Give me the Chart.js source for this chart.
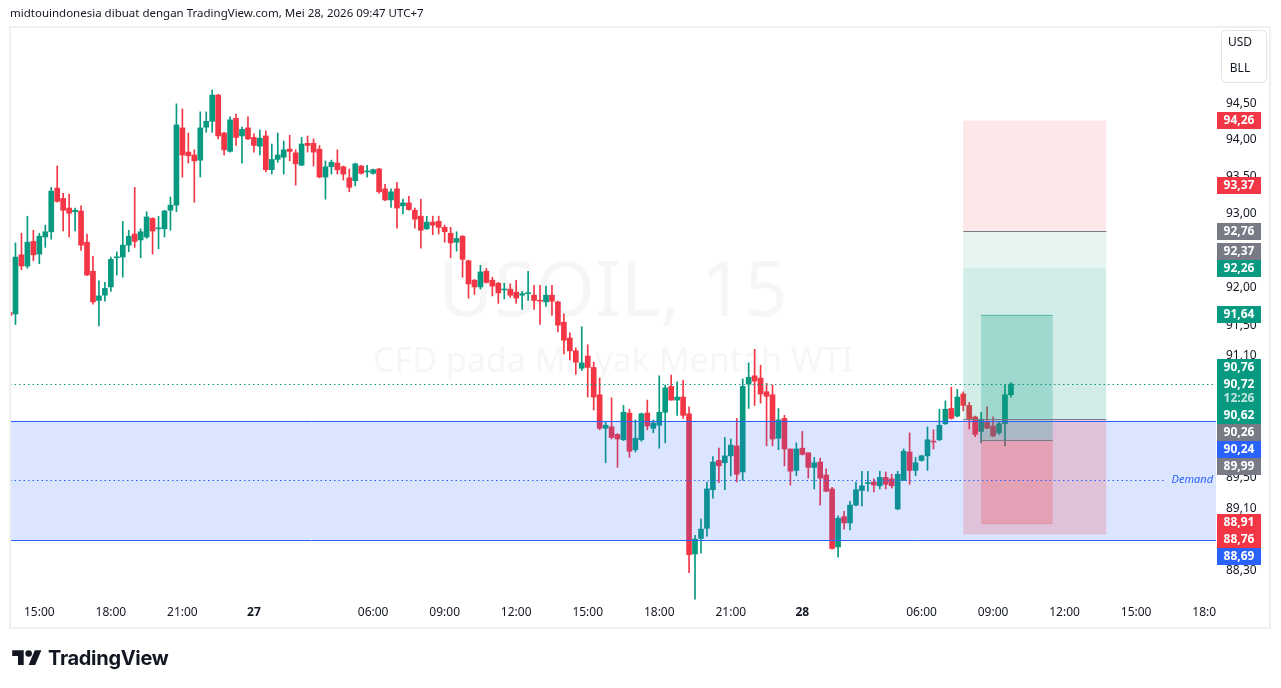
<!DOCTYPE html>
<html>
<head>
<meta charset="utf-8">
<title>USOIL, 15</title>
<script src="https://cdn.jsdelivr.net/npm/chart.js"></script>
<style>
  html, body { margin: 0; padding: 0; background: #fff; }
  #wrap { position: relative; width: 1281px; height: 688px; overflow: hidden; }
  #chart { position: absolute; left: 0; top: 0; }
  #header { position: absolute; left: 10px; top: 5px; font: 11.5px 'Noto Sans', sans-serif; color: #131722; white-space: nowrap; }
  #logo { position: absolute; left: 12px; top: 646px; display: flex; align-items: center; gap: 6px; font: 700 20px Inter, sans-serif; color: #131722; letter-spacing: -0.3px; }
</style>
</head>
<body>
<div id="wrap">
  <canvas id="chart" width="1281" height="688"></canvas>
  <div id="header">midtouindonesia dibuat dengan TradingView.com, Mei 28, 2026 09:47 UTC+7</div>
  <div id="logo">
    <svg width="30" height="23" viewBox="0 0 36 28"><path d="M14 22H7V11H0V4h14v18zM28 22h-8l7.5-18h8L28 22z" fill="#131722"/><circle cx="20" cy="8" r="4" fill="#131722"/></svg>
    <span>TradingView</span>
  </div>
</div>
<script>
// sesi perdagangan 15 menit (UTC+7), jeda 04:00-05:00
const sessions = [
  ['26', '13:45', '23:45'],
  ['27', '00:00', '03:45'],
  ['27', '05:00', '23:45'],
  ['28', '00:00', '03:45'],
  ['28', '05:00', '18:30'],
];

const opens = [91.67,91.65,92.44,92.29,92.62,92.45,92.68,92.75,93.34,93.20,93.07,93.02,93.03,92.61,92.22,91.83,91.90,92.01,92.40,92.41,
  92.57,92.72,92.64,92.68,92.93,92.79,92.79,93.04,93.11,94.16,93.83,93.79,93.72,94.17,94.25,94.61,94.09,93.84,94.29,94.05,
  94.16,94.03,93.91,94.05,93.59,93.73,93.76,93.87,93.82,93.65,93.95,93.95,93.87,93.49,93.63,93.68,93.63,93.48,93.44,93.64,
  93.56,93.54,93.60,93.33,93.18,93.33,93.10,93.14,93.04,92.96,92.79,92.88,92.89,92.81,92.73,92.61,92.69,92.36,92.10,92.01,
  92.22,92.10,92.06,91.97,91.98,91.94,91.90,91.92,91.90,91.83,91.81,91.90,91.81,91.54,91.33,91.16,90.93,91.09,90.94,90.58,
  90.14,90.16,90.06,89.99,90.34,89.86,89.99,90.34,90.14,90.18,90.35,90.69,90.51,90.55,90.33,88.51,88.71,88.84,89.34,89.72,
  89.69,89.78,89.91,89.57,90.72,90.83,90.80,90.62,90.58,90.01,90.27,89.87,89.59,89.88,89.82,89.63,89.70,89.53,89.35,88.60,
  88.99,88.91,89.14,89.33,89.42,89.44,89.39,89.50,89.48,89.09,89.46,89.83,89.59,89.72,89.78,89.97,89.99,90.20,90.40,90.30,
  90.59,90.44,90.29,90.10,90.23,90.17,90.08,90.20,90.58];
const highs = [91.69,92.60,92.73,92.96,92.77,92.73,92.84,93.35,93.64,93.27,93.26,93.07,93.10,92.72,92.42,92.09,92.07,92.41,92.48,92.89,
  92.77,93.35,92.79,93.02,92.94,92.96,93.04,93.22,94.49,94.42,94.09,93.86,94.38,94.38,94.68,94.62,94.10,94.31,94.35,94.17,
  94.31,94.08,94.13,94.12,93.94,94.09,93.98,94.06,93.86,94.03,94.05,94.01,93.92,93.71,93.72,93.86,93.64,93.60,93.68,93.65,
  93.65,93.60,93.61,93.39,93.33,93.42,93.19,93.23,93.07,93.19,92.96,92.96,92.96,92.84,92.81,92.75,92.70,92.37,92.11,92.30,
  92.26,92.14,92.07,92.06,92.05,92.10,91.95,92.22,92.03,92.03,92.02,92.03,91.82,91.65,91.40,91.20,91.48,91.24,91.01,90.80,
  90.22,90.54,90.07,90.44,90.39,90.25,90.34,90.51,90.25,90.83,90.71,90.84,90.75,90.77,90.42,88.75,88.96,89.44,89.77,89.88,
  90.02,90.00,90.27,90.79,91.00,91.18,90.97,90.73,90.71,90.40,90.31,89.87,89.95,90.10,89.82,89.76,89.75,89.61,89.37,89.00,
  89.06,89.19,89.44,89.58,89.58,89.48,89.58,89.57,89.54,89.58,89.87,90.08,89.76,89.79,90.16,90.12,90.39,90.50,90.68,90.65,
  90.62,90.48,90.30,90.35,90.42,90.29,90.22,90.71,90.74];
const lows = [91.62,91.51,92.24,92.26,92.36,92.32,92.54,92.65,93.15,92.76,92.68,92.76,92.50,92.16,91.78,91.49,91.82,91.95,92.17,92.14,
  92.48,92.54,92.40,92.66,92.45,92.52,92.68,92.77,93.02,93.49,93.68,93.15,93.49,94.10,94.10,94.01,93.79,93.83,93.92,93.68,
  94.00,93.83,93.79,93.56,93.53,93.69,93.53,93.71,93.38,93.65,93.83,93.64,93.48,93.19,93.53,93.53,93.45,93.29,93.37,93.53,
  93.49,93.53,93.27,93.17,93.08,92.80,92.99,93.04,92.80,92.53,92.78,92.71,92.72,92.61,92.40,92.49,92.14,91.86,91.91,91.98,
  92.06,91.89,91.79,91.85,91.87,91.79,91.71,91.83,91.71,91.51,91.75,91.63,91.41,91.12,91.04,90.85,90.90,90.55,90.38,90.12,
  89.69,90.00,89.63,89.98,89.76,89.83,89.97,90.12,90.08,89.88,89.95,90.51,90.31,90.27,88.27,87.93,88.52,88.74,89.23,89.43,
  89.34,89.52,89.44,89.46,90.40,90.44,90.47,89.91,89.91,89.86,89.65,89.40,89.52,89.79,89.49,89.35,89.14,89.31,88.57,88.47,
  88.83,88.82,89.13,89.13,89.32,89.31,89.35,89.35,89.36,89.08,89.46,89.41,89.52,89.71,89.59,89.87,89.98,90.19,90.26,90.29,
  90.37,90.13,90.03,89.95,90.14,90.03,90.06,89.91,90.55];
const closes = [91.63,92.41,92.29,92.61,92.44,92.69,92.75,93.30,93.16,93.04,93.00,93.04,92.57,92.17,91.81,91.89,91.99,92.38,92.41,92.57,
  92.69,92.62,92.75,92.95,92.76,92.80,93.03,93.11,94.20,93.79,93.78,93.71,94.16,94.25,94.61,94.05,93.86,94.27,94.03,94.14,
  94.01,93.92,94.02,93.59,93.73,93.79,93.86,93.84,93.67,93.94,93.92,93.83,93.49,93.63,93.69,93.59,93.53,93.35,93.67,93.54,
  93.57,93.59,93.29,93.18,93.29,93.07,93.14,93.05,92.92,92.77,92.88,92.84,92.81,92.75,92.60,92.66,92.38,92.05,92.01,92.21,
  92.07,92.02,91.93,91.98,91.90,91.86,91.92,91.93,91.83,91.82,91.90,91.82,91.50,91.30,91.16,91.01,91.00,90.94,90.55,90.14,
  90.18,90.02,90.00,90.35,89.84,90.01,90.33,90.17,90.21,90.35,90.67,90.51,90.55,90.31,88.50,88.70,88.83,89.35,89.70,89.65,
  89.78,89.92,89.54,90.69,90.81,90.76,90.59,90.56,90.00,90.25,89.87,89.58,89.87,89.80,89.63,89.69,89.49,89.32,88.58,88.97,
  88.91,89.14,89.34,89.39,89.43,89.40,89.50,89.41,89.39,89.54,89.84,89.59,89.69,89.78,89.99,89.96,90.18,90.39,90.27,90.55,
  90.44,90.26,90.06,90.26,90.14,90.04,90.20,90.58,90.72];

const yTicks = [94.5, 94, 93.5, 93, 92.5, 92, 91.5, 91.1, 90.7, 90.3, 89.9, 89.5, 89.1, 88.7, 88.3];
const timeTickKeys = ['26 15:00','26 18:00','26 21:00','27 00:00','27 06:00','27 09:00','27 12:00','27 15:00',
  '27 18:00','27 21:00','28 00:00','28 06:00','28 09:00','28 12:00','28 15:00','28 18:00'];
const timeTickTexts = ['15:00','18:00','21:00','27','06:00','09:00','12:00','15:00',
  '18:00','21:00','28','06:00','09:00','12:00','15:00','18:00'];

const lastPrice = 90.72;
const countdown = '12:26';
const demandLevels = [90.24, 88.69];
const outerTimes = ['28 07:45', '28 13:45'];
const outerLevels = [94.26, 92.76, 92.26, 90.26, 88.76];
const innerTimes = ['28 08:30', '28 11:30'];
const innerLevels = [91.64, 89.99, 88.91];

// label harga di sumbu kanan, urutan = prioritas penempatan
const labelPrices = [90.72, 92.26, 88.91, 94.26, 93.37, 92.76, 92.37, 91.64, 90.76, 90.62, 90.26, 90.24, 89.99, 88.76, 88.69];
const labelKinds = ['last','profit','loss','loss','loss','neutral','neutral','profit','profit','profit','neutral','zone','neutral','loss','zone'];

const GREEN = '#089981', RED = '#f23645', GRAY = '#787b86', BLUE = '#2962ff', TEXT = '#131722';
const kindColor = { last: GREEN, profit: GREEN, loss: RED, neutral: GRAY, zone: BLUE };
const FONT = "'Noto Sans', sans-serif";

const times = [];
sessions.forEach(([day, from, to]) => {
  let [h, m] = from.split(':').map(Number);
  const [th, tm] = to.split(':').map(Number);
  while (h * 60 + m <= th * 60 + tm) {
    times.push(`${day} ${String(h).padStart(2, '0')}:${String(m).padStart(2, '0')}`);
    m += 15;
    if (m === 60) { m = 0; h++; }
  }
});

const candleColor = (c) => closes[c.dataIndex] >= opens[c.dataIndex] ? GREEN : RED;
const crisp = (v) => Math.round(v) + 0.5;

const overlays = {
  id: 'overlays',
  beforeDatasetsDraw(chart) {
    const { ctx, chartArea: a } = chart;
    const cx = (a.left + a.right) / 2, cy = (a.top + a.bottom) / 2;
    ctx.save();
    ctx.beginPath();
    ctx.rect(a.left, a.top, a.right - a.left, a.bottom - a.top);
    ctx.clip();
    ctx.fillStyle = 'rgba(19,23,34,0.04)';
    ctx.textAlign = 'center';
    ctx.textBaseline = 'alphabetic';
    ctx.font = `76px ${FONT}`;
    ctx.fillText('USOIL, 15', cx, cy + 2);
    ctx.font = `34px ${FONT}`;
    ctx.fillText('CFD pada Minyak Mentah WTI', cx, cy + 58);
    ctx.restore();
  },
  afterDatasetsDraw(chart) {
    const { ctx, chartArea: a, scales: { x, y } } = chart;
    const X = (k) => x.getPixelForValue(times.indexOf(k));
    const Y = (p) => y.getPixelForValue(p);
    ctx.save();
    ctx.beginPath();
    ctx.rect(a.left, a.top, a.right - a.left, a.bottom - a.top);
    ctx.clip();

    // zona Demand
    const dTop = Y(demandLevels[0]), dBot = Y(demandLevels[1]);
    ctx.fillStyle = 'rgba(41,98,255,0.17)';
    ctx.fillRect(a.left, dTop, a.right - a.left, dBot - dTop);

    // posisi long besar
    const ox1 = X(outerTimes[0]), ox2 = X(outerTimes[1]);
    const oy = outerLevels.map(Y);
    const band = (x1, x2, y1, y2, c) => { ctx.fillStyle = c; ctx.fillRect(x1, y1, x2 - x1, y2 - y1); };
    band(ox1, ox2, oy[0], oy[1], 'rgba(242,54,69,0.12)');
    band(ox1, ox2, oy[1], oy[2], 'rgba(8,153,129,0.10)');
    band(ox1, ox2, oy[2], oy[3], 'rgba(8,153,129,0.18)');
    band(ox1, ox2, oy[3], oy[4], 'rgba(242,54,69,0.20)');

    // posisi long kecil
    const ix1 = X(innerTimes[0]), ix2 = X(innerTimes[1]);
    const iy = innerLevels.map(Y);
    band(ix1, ix2, iy[0], iy[1], 'rgba(8,153,129,0.25)');
    band(ix1, ix2, iy[1], iy[2], 'rgba(242,54,69,0.25)');

    const hline = (x1, x2, yy, color, dash) => {
      ctx.beginPath();
      ctx.setLineDash(dash || []);
      ctx.strokeStyle = color;
      ctx.lineWidth = 1;
      ctx.moveTo(x1, crisp(yy));
      ctx.lineTo(x2, crisp(yy));
      ctx.stroke();
    };
    hline(ox1, ox2, oy[1], GRAY);
    hline(ox1, ox2, oy[3], GRAY);
    hline(ix1, ix2, iy[0], 'rgba(8,153,129,0.45)');
    hline(ix1, ix2, iy[1], GRAY);
    hline(ix1, ix2, iy[2], 'rgba(242,54,69,0.35)');

    hline(a.left, a.right, dTop, BLUE);
    hline(a.left, a.right, dBot, BLUE);
    const dMid = Y((demandLevels[0] + demandLevels[1]) / 2);
    ctx.font = `italic 11px ${FONT}`;
    const dw = ctx.measureText('Demand').width;
    hline(a.left, a.right - dw - 10, dMid, BLUE, [1.5, 3]);
    ctx.fillStyle = BLUE;
    ctx.textAlign = 'right';
    ctx.textBaseline = 'middle';
    ctx.fillText('Demand', a.right - 3, dMid);

    hline(a.left, a.right, Y(lastPrice), GREEN, [1.5, 3]);
    ctx.restore();
  },
  afterDraw(chart) {
    const { ctx, chartArea: a, scales: { x, y } } = chart;
    ctx.save();

    // label waktu
    ctx.beginPath();
    ctx.rect(a.left, a.bottom, a.right - a.left, 40);
    ctx.clip();
    ctx.textAlign = 'center';
    ctx.textBaseline = 'middle';
    ctx.fillStyle = TEXT;
    timeTickKeys.forEach((k, n) => {
      const t = timeTickTexts[n];
      ctx.font = `${t.length <= 2 ? 'bold ' : ''}12px ${FONT}`;
      ctx.fillText(t, x.getPixelForValue(times.indexOf(k)), a.bottom + 13);
    });
    ctx.restore();

    // label harga
    ctx.save();
    const placed = [];
    const hit = (t, h) => placed.some(p => t < p.t + p.h - 0.01 && t + h > p.t + 0.01);
    labelPrices.forEach((p, n) => {
      const kind = labelKinds[n];
      const h = kind === 'last' ? 31 : 17;
      const want = y.getPixelForValue(p) - 8.5;
      let t = want;
      if (hit(t, h)) {
        const cands = [];
        placed.forEach(q => { cands.push(q.t - h, q.t + q.h); });
        t = cands.filter(c => !hit(c, h)).sort((u, v) => Math.abs(u - want) - Math.abs(v - want))[0];
      }
      placed.push({ t, h, p, kind });
    });
    const lx = a.right + 1, lw = 44;
    placed.forEach(({ t, h, p, kind }) => {
      ctx.fillStyle = kindColor[kind];
      ctx.fillRect(lx, Math.round(t), lw, h);
      ctx.fillStyle = '#fff';
      ctx.font = `bold 12px ${FONT}`;
      ctx.textAlign = 'center';
      ctx.textBaseline = 'middle';
      ctx.fillText(p.toFixed(2).replace('.', ','), lx + lw / 2, Math.round(t) + 9);
      if (kind === 'last') {
        ctx.fillStyle = 'rgba(255,255,255,0.75)';
        ctx.fillText(countdown, lx + lw / 2, Math.round(t) + 23);
      }
    });

    // bingkai
    ctx.strokeStyle = '#f0f0f0';
    ctx.lineWidth = 2;
    ctx.strokeRect(10, 27, 1260, 601);

    // tombol mata uang
    ctx.beginPath();
    ctx.roundRect(1221.5, 30.5, 45, 52, 4);
    ctx.fillStyle = '#fff';
    ctx.fill();
    ctx.strokeStyle = '#e0e3eb';
    ctx.lineWidth = 1;
    ctx.stroke();
    ctx.fillStyle = TEXT;
    ctx.font = `12px ${FONT}`;
    ctx.textAlign = 'center';
    ctx.textBaseline = 'middle';
    ctx.fillText('USD', 1240, 43);
    ctx.fillText('BLL', 1240, 69);
    ctx.restore();
  }
};

Chart.defaults.font.family = FONT;

new Chart(document.getElementById('chart'), {
  type: 'bar',
  data: {
    datasets: [
      {
        label: 'Sumbu',
        data: opens.map((o, i) => ({ x: i, y: [lows[i], highs[i]] })),
        backgroundColor: candleColor,
        barThickness: 1,
        grouped: false,
        borderWidth: 0,
        clip: 0,
        order: 2,
      },
      {
        label: 'Badan',
        data: opens.map((o, i) => ({ x: i, y: [o, closes[i]] })),
        backgroundColor: candleColor,
        barThickness: 5,
        minBarLength: 1,
        grouped: false,
        borderWidth: 0,
        clip: 0,
        order: 1,
      },
    ],
  },
  options: {
    responsive: false,
    animation: false,
    events: [],
    layout: { padding: { left: 10, top: 27, right: 11, bottom: 60 } },
    plugins: { legend: { display: false }, tooltip: { enabled: false } },
    scales: {
      x: {
        type: 'linear',
        min: 0.08,
        max: 202.4,
        offset: false,
        grid: { display: false },
        border: { display: false },
        ticks: { display: false },
        afterFit: (s) => { s.height = 28; },
      },
      y: {
        type: 'logarithmic',
        position: 'right',
        min: 87.92,
        max: 95.55,
        grid: { display: false, drawTicks: false },
        border: { display: false },
        afterBuildTicks: (s) => { s.ticks = yTicks.map(v => ({ value: v })); },
        afterFit: (s) => { s.width = 54; },
        ticks: {
          autoSkip: false,
          padding: 10,
          color: TEXT,
          font: { size: 12 },
          callback: (v) => Number(v).toFixed(2).replace('.', ','),
        },
      },
    },
  },
  plugins: [overlays],
});
</script>
</body>
</html>
